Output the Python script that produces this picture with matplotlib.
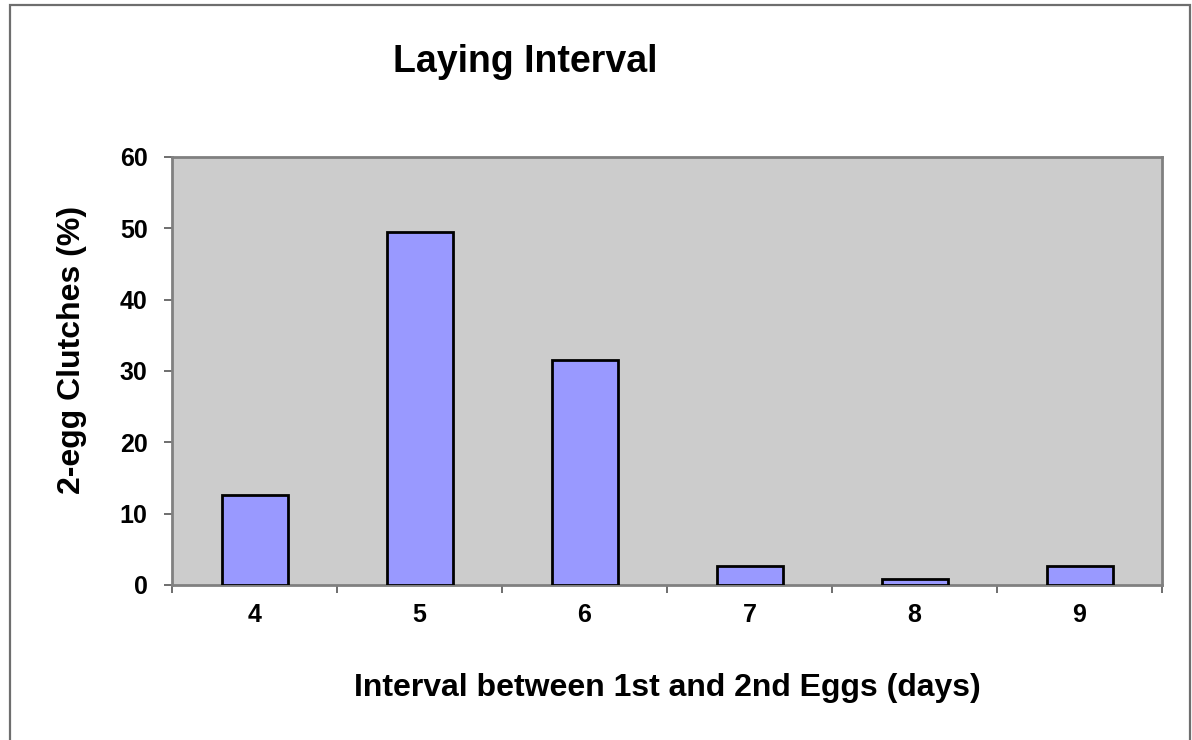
import matplotlib
matplotlib.use("Agg")
import matplotlib.pyplot as plt
from matplotlib.patches import Rectangle

# Laying interval distribution for 2-egg clutches
intervals = ["4", "5", "6", "7", "8", "9"]
pct_clutches = [12.6, 49.5, 31.5, 2.7, 0.9, 2.7]
y_ticks = [0, 10, 20, 30, 40, 50, 60]

plt.rcParams["font.family"] = ["Liberation Sans", "DejaVu Sans"]
plt.rcParams["font.weight"] = "bold"

W, H = 1192, 740
fig = plt.figure(figsize=(W / 100, H / 100), dpi=100)
fig.patch.set_facecolor("white")

# outer chart frame
fig.patches.append(Rectangle((10 / W, -0.05), 1180 / W, 1.05 - 5 / H,
                             transform=fig.transFigure, fill=False,
                             edgecolor="#6e6e6e", linewidth=1.6, zorder=0))

ax = fig.add_axes([172 / W, 155 / H, 990 / W, 428 / H])
ax.set_facecolor("#cccccc")

x = list(range(len(intervals)))
ax.bar(x, pct_clutches, width=0.4, color="#9999ff", edgecolor="black",
       linewidth=2.0, zorder=3)

ax.set_xlim(-0.5, len(intervals) - 0.5)
ax.set_ylim(0, 60)
ax.set_yticks(y_ticks)
ax.set_yticklabels([str(v) for v in y_ticks], fontsize=18, fontweight="bold")

# category boundaries carry the x tick marks; labels sit at bar centres
ax.set_xticks([i - 0.5 for i in range(len(intervals) + 1)])
ax.set_xticklabels([])
ax.set_xticks(x, minor=True)
ax.set_xticklabels(intervals, minor=True, fontsize=18, fontweight="bold")
ax.tick_params(axis="x", which="minor", length=0, pad=13)
ax.tick_params(axis="x", which="major", length=5.5, width=1.2, color="#555555")
ax.tick_params(axis="y", length=5.5, width=1.2, color="#555555", pad=12)

for side in ["left", "bottom", "right", "top"]:
    ax.spines[side].set_color("#808080")
    ax.spines[side].set_linewidth(2.0)

ax.set_ylabel("2-egg Clutches (%)", fontsize=23, fontweight="bold", va="center")
ax.yaxis.set_label_coords((72 - 172) / 990, (583 - 348) / 428)
ax.set_xlabel("Interval between 1st and 2nd Eggs (days)", fontsize=23,
              fontweight="bold", va="center")
ax.xaxis.set_label_coords((667 - 172) / 990, (583 - 686) / 428)

fig.text(525 / W, 1 - 72 / H, "Laying Interval", ha="center", va="baseline",
         fontsize=27, fontweight="bold")

fig.savefig("out.png", dpi=100)
